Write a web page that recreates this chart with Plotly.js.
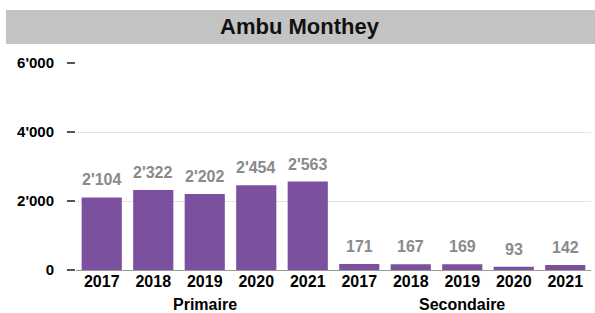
<!DOCTYPE html>
<html>
<head>
<meta charset="utf-8">
<script src="https://cdn.plot.ly/plotly-3.0.1.min.js"></script>
<style>html,body{margin:0;padding:0;background:#fff;}#chart{width:595px;height:313px;}</style>
</head>
<body>
<div id="chart"></div>
<script>
var years = ["2017","2018","2019","2020","2021","2017","2018","2019","2020","2021"];
var groups = ["Primaire","Secondaire"];
var values = [2104, 2322, 2202, 2454, 2563, 171, 167, 169, 93, 142];
var yTicks = [0, 2000, 4000, 6000];

function fmt(v){ return String(v).replace(/\B(?=(\d{3})+(?!\d))/g, "'"); }

var idx = values.map(function(_, i){ return i; });
var FONT = 'Liberation Sans, Arial, sans-serif';

var trace = {
  type: 'bar',
  x: idx,
  y: values,
  marker: {color: '#7b519f'},
  hoverinfo: 'skip'
};

var annotations = idx.map(function(i){
  return {
    x: i, y: values[i], xref: 'x', yref: 'y',
    text: fmt(values[i]), showarrow: false,
    yanchor: 'bottom', yshift: 7,
    font: {family: FONT, size: 16, color: '#8a8a8a', weight: 'bold'}
  };
});
annotations.push({
  x: 2, y: -0.167, xref: 'x', yref: 'paper', text: groups[0], showarrow: false,
  yanchor: 'middle', font: {family: FONT, size: 16, color: '#000', weight: 'bold'}
});
annotations.push({
  x: 7, y: -0.167, xref: 'x', yref: 'paper', text: groups[1], showarrow: false,
  yanchor: 'middle', font: {family: FONT, size: 16, color: '#000', weight: 'bold'}
});
annotations.push({
  x: 0.435, y: 1.174, xref: 'paper', yref: 'paper', text: 'Ambu Monthey', showarrow: false,
  xanchor: 'center', yanchor: 'middle',
  font: {family: FONT, size: 22, color: '#111', weight: 'bold'}
});

var layout = {
  width: 595, height: 313,
  margin: {l: 76, r: 4, t: 63, b: 43, pad: 0},
  paper_bgcolor: '#fff', plot_bgcolor: '#fff',
  separators: ".'",
  showlegend: false,
  bargap: 0.22,
  xaxis: {
    range: [-0.5, 9.5], tickmode: 'array', tickvals: idx, ticktext: years,
    showgrid: false, zeroline: false, showline: false, ticks: '',
    tickfont: {family: FONT, size: 16, color: '#000', weight: 'bold'},
    fixedrange: true
  },
  yaxis: {
    range: [0, 6000], tickmode: 'array', tickvals: yTicks, ticktext: yTicks.map(fmt),
    showgrid: true, gridcolor: '#e3e3e3', gridwidth: 1,
    zeroline: true, zerolinecolor: '#9a9a9a', zerolinewidth: 1,
    showline: false, ticks: 'outside', ticklen: 8, tickcolor: '#555', tickwidth: 1.5,
    ticklabelstandoff: 10,
    tickfont: {family: FONT, size: 15, color: '#000', weight: 'bold'},
    fixedrange: true
  },
  shapes: [{
    type: 'rect', xref: 'paper', yref: 'paper',
    x0: -0.136, x1: 1.01, y0: 1.092, y1: 1.256,
    fillcolor: '#c3c3c3', line: {width: 0}, layer: 'below'
  }],
  annotations: annotations
};

Plotly.newPlot('chart', [trace], layout, {displayModeBar: false, staticPlot: true});
</script>
</body>
</html>
